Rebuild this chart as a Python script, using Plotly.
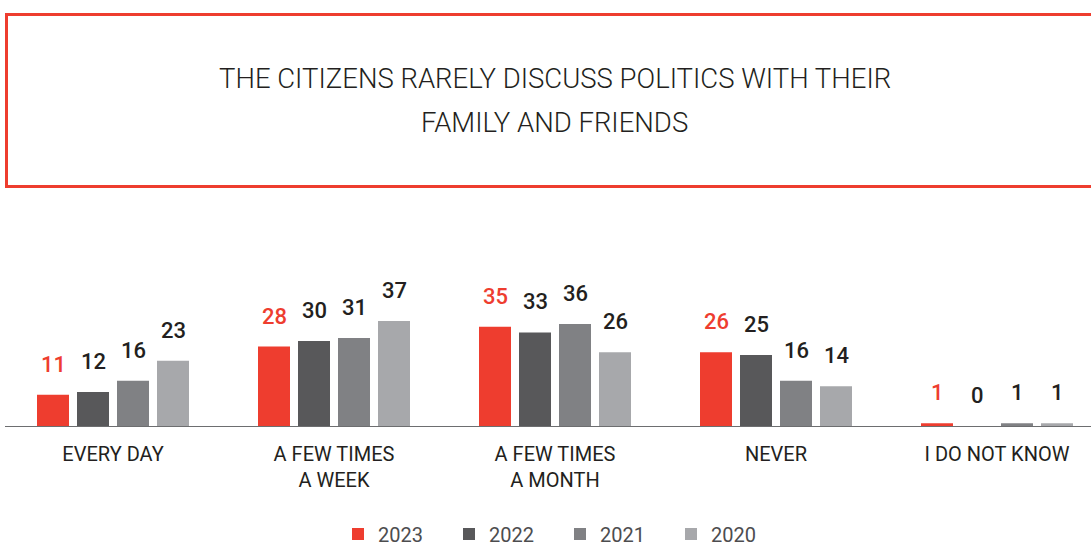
import plotly.graph_objects as go

# Survey answers by year (share of respondents, %)
categories = ["EVERY DAY", "A FEW TIMES<br>A WEEK", "A FEW TIMES<br>A MONTH", "NEVER", "I DO NOT KNOW"]
years = ["2023", "2022", "2021", "2020"]
values_2023 = [11, 28, 35, 26, 1]
values_2022 = [12, 30, 33, 25, 0]
values_2021 = [16, 31, 36, 16, 1]
values_2020 = [23, 37, 26, 14, 1]

series = [values_2023, values_2022, values_2021, values_2020]
colors = ["#EE3D2F", "#58585A", "#808184", "#A7A8AB"]
label_colors = ["#EE3D2F", "#231F20", "#231F20", "#231F20"]

W, H = 1091, 548
base_px, top_px = 426, 426 - 40 * 2.835
left_px = 5

BARGAP = 0.276
slot = (1 - BARGAP) / len(years)

fig = go.Figure()
x_idx = list(range(len(categories)))
for name, vals, col in zip(years, series, colors):
    fig.add_trace(go.Bar(
        x=x_idx, y=vals, name=name, marker=dict(color=col, line=dict(width=0)),
        hoverinfo="skip",
    ))

# value labels above each bar
annotations = []
for j, (vals, lc) in enumerate(zip(series, label_colors)):
    off = (j - (len(years) - 1) / 2) * slot
    for i, v in enumerate(vals):
        annotations.append(dict(
            x=i + off, y=v, xref="x", yref="y", text=str(v), showarrow=False,
            yanchor="bottom", yshift=16,
            font=dict(family="Roboto", size=22, color=lc, weight=500),
        ))

# title inside the framed header
title_font = dict(family="Roboto", size=27.5, color="#231F20", weight=300)
annotations.append(dict(x=554.5 / W, y=1 - 78 / H, xref="paper", yref="paper",
                        text="THE CITIZENS RARELY DISCUSS POLITICS WITH THEIR",
                        showarrow=False, font=title_font, yanchor="middle"))
annotations.append(dict(x=554.5 / W, y=1 - 123 / H, xref="paper", yref="paper",
                        text="FAMILY AND FRIENDS",
                        showarrow=False, font=title_font, yanchor="middle"))

fig.update_layout(
    width=W, height=H,
    margin=dict(l=0, r=0, t=0, b=0, autoexpand=False),
    paper_bgcolor="white", plot_bgcolor="white",
    barmode="group", bargap=BARGAP, bargroupgap=0.2,
    showlegend=True,
    legend=dict(orientation="h", x=338 / W, xanchor="left", y=1 - 534 / H, yanchor="middle",
                entrywidth=66, entrywidthmode="pixels",
                font=dict(family="Roboto", size=20, color="#4D4D4F"),
                itemclick=False, itemdoubleclick=False),
    annotations=annotations,
    shapes=[dict(type="rect", xref="paper", yref="paper",
                 x0=6.5 / W, x1=1.02, y0=1 - 186.5 / H, y1=1 - 14.5 / H,
                 line=dict(color="#EE3D2F", width=3), fillcolor="rgba(0,0,0,0)")],
    xaxis=dict(
        domain=[left_px / W, 1],
        range=[-108 / 221, -108 / 221 + (W - left_px) / 221],
        tickmode="array", tickvals=x_idx, ticktext=categories,
        showline=True, linecolor="#6D6E70", linewidth=1.3,
        ticks="outside", ticklen=10, tickcolor="rgba(0,0,0,0)",
        showgrid=False, zeroline=False,
        tickfont=dict(family="Roboto", size=20, color="#231F20"),
        fixedrange=True,
    ),
    yaxis=dict(
        domain=[1 - base_px / H, 1 - top_px / H],
        range=[0, 40], visible=False, showgrid=False, zeroline=False, fixedrange=True,
    ),
)

fig.write_html("out.html")
